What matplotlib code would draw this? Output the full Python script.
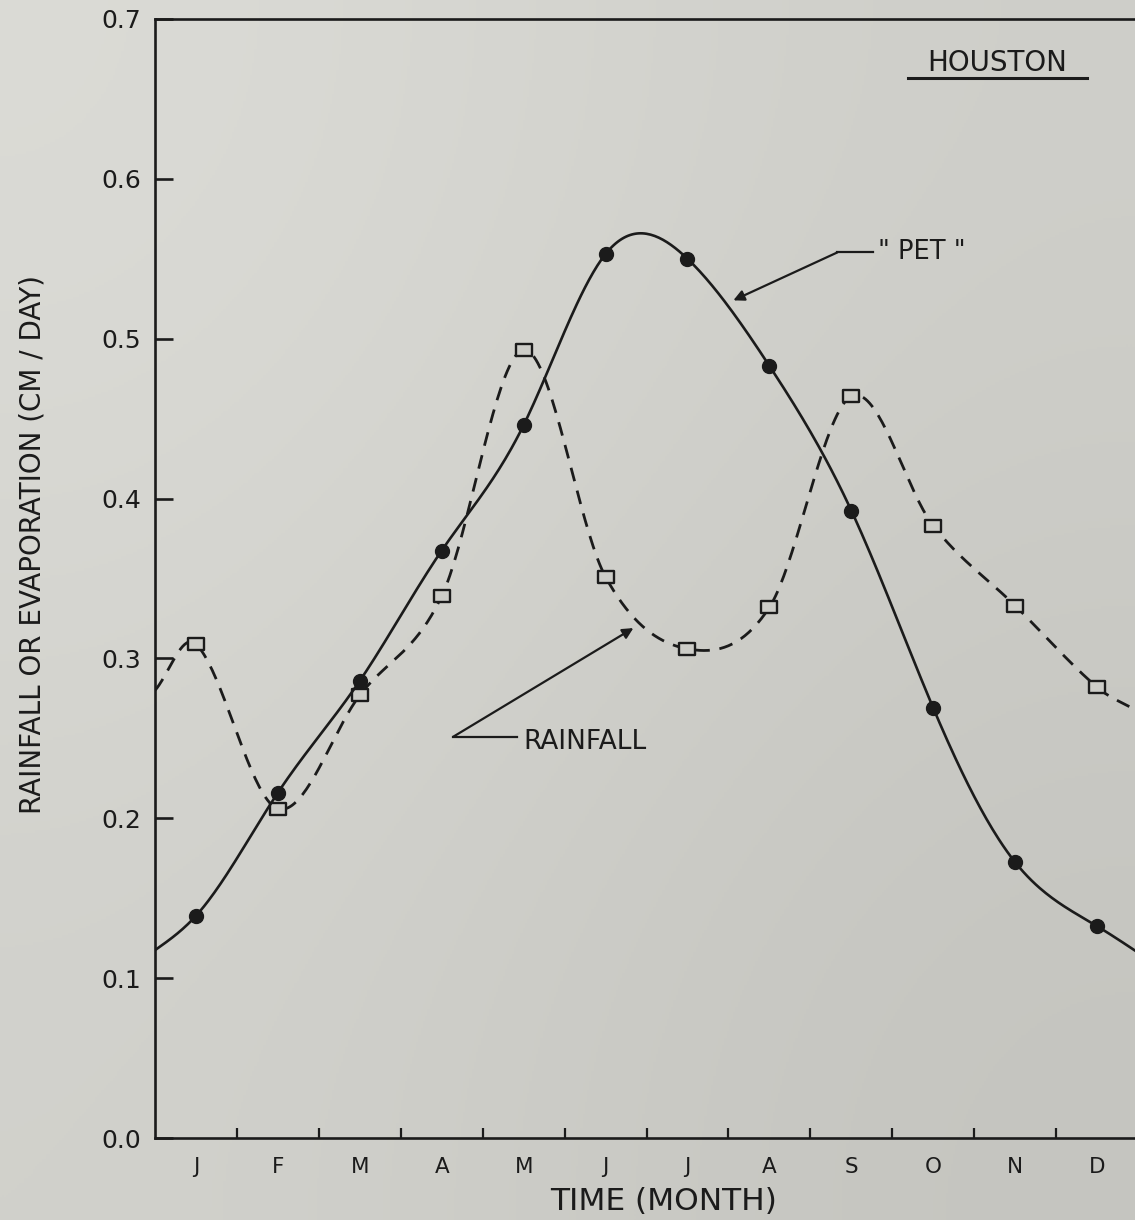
import numpy as np
import matplotlib
matplotlib.use("Agg")
import matplotlib.pyplot as plt
from matplotlib.path import Path

# ---------------- data ----------------
months = ["J", "F", "M", "A", "M", "J", "J", "A", "S", "O", "N", "D"]
pet = [0.139, 0.216, 0.286, 0.3675, 0.446, 0.553, 0.550, 0.483, 0.3925, 0.269, 0.1725, 0.1325]
rain = [0.309, 0.206, 0.277, 0.339, 0.493, 0.351, 0.306, 0.332, 0.464, 0.383, 0.333, 0.282]
pet_ends = [0.1175, 0.116]    # curve value at the start / end of the year
rain_ends = [0.280, 0.267]
yticks = [0.0, 0.1, 0.2, 0.3, 0.4, 0.5, 0.6, 0.7]

INK = "#1b1b1b"
BG = "#cdcdc8"


def hermite_curve(x, y, k=1.0, n=40):
    """Smooth cubic Hermite (Catmull-Rom style) curve through the points."""
    x = np.asarray(x, float)
    y = np.asarray(y, float)
    m = np.empty_like(y)
    m[1:-1] = (y[2:] - y[:-2]) / (x[2:] - x[:-2]) * k
    m[0] = (y[1] - y[0]) / (x[1] - x[0])
    m[-1] = (y[-1] - y[-2]) / (x[-1] - x[-2])
    xs, ys = [], []
    t = np.linspace(0, 1, n, endpoint=False)
    h00 = 2 * t**3 - 3 * t**2 + 1
    h10 = t**3 - 2 * t**2 + t
    h01 = -2 * t**3 + 3 * t**2
    h11 = t**3 - t**2
    for i in range(len(x) - 1):
        h = x[i + 1] - x[i]
        xs.append(x[i] + t * h)
        ys.append(h00 * y[i] + h10 * h * m[i] + h01 * y[i + 1] + h11 * h * m[i + 1])
    xs.append([x[-1]])
    ys.append([y[-1]])
    return np.concatenate(xs), np.concatenate(ys)


def natural_spline(x, y, n=40):
    """Natural cubic spline through the points (C2 smooth)."""
    x = np.asarray(x, float)
    y = np.asarray(y, float)
    N = len(x)
    h = np.diff(x)
    A = np.zeros((N, N))
    r = np.zeros(N)
    A[0, 0] = A[-1, -1] = 1.0
    for i in range(1, N - 1):
        A[i, i - 1] = h[i - 1]
        A[i, i] = 2 * (h[i - 1] + h[i])
        A[i, i + 1] = h[i]
        r[i] = 6 * ((y[i + 1] - y[i]) / h[i] - (y[i] - y[i - 1]) / h[i - 1])
    M = np.linalg.solve(A, r)
    xs, ys = [], []
    for i in range(N - 1):
        t = np.linspace(x[i], x[i + 1], n, endpoint=False)
        a = x[i + 1] - t
        b = t - x[i]
        s = (M[i] * a**3 + M[i + 1] * b**3) / (6 * h[i]) \
            + (y[i] / h[i] - M[i] * h[i] / 6) * a + (y[i + 1] / h[i] - M[i + 1] * h[i] / 6) * b
        xs.append(t)
        ys.append(s)
    xs.append([x[-1]])
    ys.append([y[-1]])
    return np.concatenate(xs), np.concatenate(ys)


fig = plt.figure(figsize=(11.35, 12.2), dpi=100)

# paper-like background with a slight gradient
bgax = fig.add_axes([0, 0, 1, 1], zorder=-10)
grad = np.array([[[0.86, 0.86, 0.84], [0.81, 0.81, 0.79]],
                 [[0.82, 0.82, 0.80], [0.77, 0.77, 0.75]]])
bgax.imshow(grad, extent=[0, 1, 0, 1], aspect="auto", interpolation="bicubic")
bgax.set_axis_off()

ax = fig.add_axes([155 / 1135, 82 / 1220, 1024 / 1135, 1119 / 1220])
ax.set_facecolor("none")
ax.set_xlim(0, 12.5)
ax.set_ylim(0, 0.7)

for s in ax.spines.values():
    s.set_linewidth(1.9)
    s.set_color(INK)

ax.set_yticks(yticks)
ax.set_yticklabels([f"{v:.1f}" for v in yticks])
ax.tick_params(axis="y", direction="in", length=13, width=1.9, pad=10,
               labelsize=18, colors=INK)
ax.set_xticks(range(1, 12))
ax.set_xticklabels([])
ax.tick_params(axis="x", which="major", direction="in", length=7, width=1.6, colors=INK)
centers = np.arange(12) + 0.5
ax.set_xticks(centers, minor=True)
ax.set_xticklabels(months, minor=True)
ax.tick_params(axis="x", which="minor", length=0, pad=13.5, labelsize=15.5, colors=INK)

# curves
xc = np.concatenate([[0.0], centers, [12.0]])
px, py = natural_spline(xc, [pet_ends[0]] + pet + [pet_ends[1]])
rx, ry = hermite_curve(xc, [rain_ends[0]] + rain + [rain_ends[1]], k=1.0)

ax.plot(rx, ry, color=INK, lw=2.0, linestyle=(0, (5, 3.5)), zorder=2)
rect = Path([(-1, -0.72), (1, -0.72), (1, 0.72), (-1, 0.72), (-1, -0.72)],
            [Path.MOVETO, Path.LINETO, Path.LINETO, Path.LINETO, Path.CLOSEPOLY])
ax.plot(centers, rain, ls="none", marker=rect, ms=12, mfc=BG, mec=INK, mew=1.7, zorder=3)
ax.plot(px, py, color=INK, lw=1.9, zorder=4)
ax.plot(centers, pet, ls="none", marker="o", ms=10, color=INK, zorder=5)

# annotations
arrow = dict(arrowstyle="-|>", color=INK, lw=1.6, mutation_scale=16, shrinkA=0, shrinkB=0)
ax.annotate("", xy=(7.06, 0.524), xytext=(8.33, 0.554), arrowprops=arrow, zorder=6)
ax.plot([8.33, 8.77], [0.554, 0.554], color=INK, lw=1.6)
ax.text(8.83, 0.554, '" PET "', ha="left", va="center", fontsize=18.5, color=INK)

ax.annotate("", xy=(5.84, 0.319), xytext=(3.64, 0.251), arrowprops=arrow, zorder=6)
ax.plot([3.64, 4.42], [0.251, 0.251], color=INK, lw=1.6)
ax.text(4.50, 0.248, "RAINFALL", ha="left", va="center", fontsize=19, color=INK)

ax.text(10.28, 0.6725, "HOUSTON", ha="center", va="center", fontsize=20, color=INK)
ax.plot([9.19, 11.38], [0.663, 0.663], color=INK, lw=2.2)

fig.text(33 / 1135, 1 - 545 / 1220, "RAINFALL OR EVAPORATION (CM / DAY)", rotation=90,
         ha="center", va="center", fontsize=20, color=INK)
fig.text(664 / 1135, 1 - 1202 / 1220, "TIME (MONTH)", ha="center", va="center",
         fontsize=22.5, color=INK)

fig.savefig("out.png", dpi=100)
